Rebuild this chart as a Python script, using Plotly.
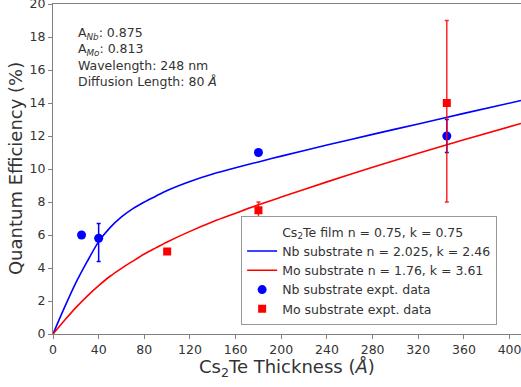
import plotly.graph_objects as go

# Model curves
curve_x = [0, 10, 20, 30, 40, 50, 60, 70, 80, 90, 100, 120, 140, 160, 180, 200, 240, 280, 320, 360, 410]
nb_curve = [0, 1.6, 3.1, 4.4, 5.6, 6.45, 7.1, 7.6, 8.0, 8.35, 8.7, 9.25, 9.7, 10.08, 10.43, 10.78, 11.45, 12.1, 12.73, 13.37, 14.15]
mo_curve = [0, 0.82, 1.6, 2.3, 2.93, 3.5, 3.98, 4.42, 4.85, 5.22, 5.58, 6.22, 6.8, 7.32, 7.83, 8.3, 9.22, 10.1, 10.95, 11.77, 12.76]

# Experimental data
nb_x = [25, 40, 180, 345]
nb_y = [6.0, 5.8, 11.0, 12.0]
nb_err_plus = [0, 0.9, 0, 1.0]
nb_err_minus = [0, 1.4, 0, 1.0]

mo_x = [100, 180, 345]
mo_y = [5.0, 7.5, 14.0]
mo_err_plus = [0, 0.5, 5.0]
mo_err_minus = [0, 0.5, 6.0]

x_ticks = list(range(0, 401, 40))
y_ticks = list(range(0, 21, 2))

FONT = "DejaVu Sans"
TXT = "#333333"
AX = "#808080"

fig = go.Figure()
fig.add_trace(go.Scatter(x=[None], y=[None], mode="markers",
                         marker=dict(color="rgba(0,0,0,0)", size=1),
                         name="Cs<sub>2</sub>Te film n = 0.75, k = 0.75"))
fig.add_trace(go.Scatter(x=curve_x, y=nb_curve, mode="lines", line=dict(color="blue", width=1.6, shape="spline", smoothing=0.8),
                         name="Nb substrate n = 2.025, k = 2.46"))
fig.add_trace(go.Scatter(x=curve_x, y=mo_curve, mode="lines", line=dict(color="red", width=1.6, shape="spline", smoothing=0.8),
                         name="Mo substrate n = 1.76, k = 3.61"))
fig.add_trace(go.Scatter(x=nb_x, y=nb_y, mode="markers", marker=dict(color="blue", size=9, symbol="circle"),
                         error_y=dict(type="data", symmetric=False, array=nb_err_plus, arrayminus=nb_err_minus,
                                      color="blue", thickness=1.5, width=2),
                         name="Nb substrate expt. data"))
fig.add_trace(go.Scatter(x=mo_x, y=mo_y, mode="markers", marker=dict(color="red", size=8, symbol="square"),
                         error_y=dict(type="data", symmetric=False, array=mo_err_plus, arrayminus=mo_err_minus,
                                      color="rgba(255,0,0,0.85)", thickness=1.5, width=2),
                         name="Mo substrate expt. data"))

fig.add_annotation(x=20.5, y=18.85, xref="x", yref="y", xanchor="left", yanchor="top", align="left",
                   showarrow=False,
                   text="A<sub><i>Nb</i></sub>: 0.875<br>A<sub><i>Mo</i></sub>: 0.813<br>Wavelength: 248 nm<br>Diffusion Length: 80 <i>Å</i>",
                   font=dict(family=FONT, size=12.5, color=TXT))

# axis titles as annotations for precise placement
fig.add_annotation(x=0.5, y=-0.103, xref="paper", yref="paper", xanchor="center", yanchor="middle",
                   showarrow=False, text="Cs<sub>2</sub>Te Thickness (<i>Å</i>)",
                   font=dict(family=FONT, size=18, color=TXT))
fig.add_annotation(x=-0.081, y=0.5, xref="paper", yref="paper", xanchor="center", yanchor="middle",
                   showarrow=False, textangle=-90, text="Quantum Efficiency (%)",
                   font=dict(family=FONT, size=18, color=TXT))

fig.update_layout(
    width=521, height=387,
    margin=dict(l=53, r=0, t=4, b=53),
    paper_bgcolor="white", plot_bgcolor="white",
    font=dict(family=FONT, color=TXT),
    showlegend=True,
    legend=dict(x=0.402, y=0.357, xanchor="left", yanchor="top",
                bordercolor="#999999", borderwidth=1, bgcolor="white",
                font=dict(family=FONT, size=12.5, color=TXT),
                tracegroupgap=0, itemwidth=30),
    xaxis=dict(range=[0, 410], tickvals=x_ticks, showgrid=False, zeroline=False,
               showline=True, linecolor=AX, linewidth=1.2, mirror=True,
               ticks="outside", ticklen=4, tickcolor=AX, automargin=False,
               ticklabeloverflow="allow",
               tickfont=dict(family=FONT, size=12.5, color=TXT)),
    yaxis=dict(range=[0, 20], tickvals=y_ticks, showgrid=False, zeroline=False,
               showline=True, linecolor=AX, linewidth=1.2,
               ticks="outside", ticklen=4, tickcolor=AX, automargin=False,
               ticklabeloverflow="allow",
               tickfont=dict(family=FONT, size=12.5, color=TXT)),
)

fig.write_html("out.html", config={"displayModeBar": False},
               post_script="document.body.style.margin='0px';document.body.style.overflow='hidden';")
